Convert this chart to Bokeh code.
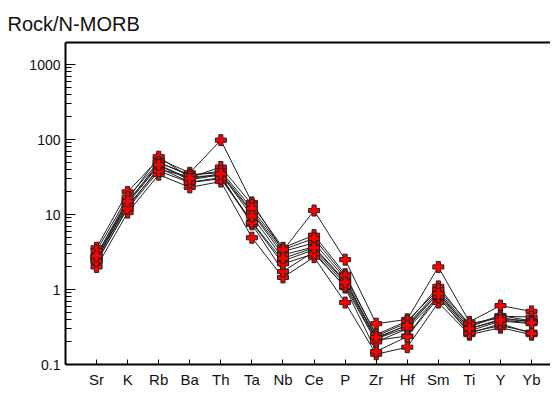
from bokeh.plotting import figure
from bokeh.models import Range1d, FixedTicker, LogAxis, LinearAxis, LogScale
from bokeh.embed import file_html
from bokeh.resources import INLINE

elements = ["Sr", "K", "Rb", "Ba", "Th", "Ta", "Nb", "Ce", "P", "Zr", "Hf", "Sm", "Ti", "Y", "Yb"]

s1 = [3.6, 20.0, 55, 36, 98, 14.5, 3.3, 11.3, 2.5, 0.35, 0.40, 2.0, 0.37, 0.61, 0.51]
s2 = [2.9, 15.8, 59, 31, 43, 13.6, 3.6, 5.3, 1.6, 0.24, 0.36, 1.10, 0.33, 0.45, 0.38]
s3 = [2.7, 14.5, 49, 34, 36, 11.0, 3.2, 4.2, 1.4, 0.22, 0.34, 0.95, 0.32, 0.44, 0.43]
s4 = [2.5, 14.0, 45, 29, 34, 10.6, 2.9, 3.7, 1.3, 0.22, 0.31, 0.90, 0.30, 0.40, 0.38]
s5 = [2.3, 12.4, 42, 27, 31, 8.0, 2.4, 3.4, 1.17, 0.21, 0.24, 0.85, 0.28, 0.38, 0.35]
s6 = [2.0, 10.6, 34, 23, 27.5, 4.9, 1.45, 2.7, 0.67, 0.137, 0.17, 0.67, 0.25, 0.31, 0.25]
s7 = [2.6, 13.0, 40, 32, 33, 7.4, 1.74, 3.2, 1.06, 0.149, 0.236, 0.78, 0.27, 0.33, 0.27]
s8 = [3.3, 17.0, 50, 33, 38, 12.0, 3.4, 4.8, 1.5, 0.25, 0.38, 1.0, 0.35, 0.42, 0.37]
s9 = [2.4, 12.0, 38, 26.7, 30, 7.8, 2.2, 3.0, 1.1, 0.20, 0.30, 0.80, 0.26, 0.35, 0.26]
s10 = [2.8, 15.0, 46, 30, 35, 9.5, 2.6, 3.6, 1.25, 0.23, 0.33, 0.88, 0.30, 0.39, 0.36]
samples = [s1, s2, s3, s4, s5, s6, s7, s8, s9, s10]

y_major = [0.1, 1, 10, 100, 1000]
y_labels = ["0.1", "1", "10", "100", "1000"]

FONT = "Liberation Sans"

p = figure(width=550, height=390, y_axis_type=None, x_axis_type=None,
           x_range=Range1d(0, 15.61), y_range=Range1d(0.1, 1966),
           output_backend="svg", toolbar_location=None,
           min_border_left=65, min_border_right=0, min_border_top=42, min_border_bottom=25,
           title="Rock/N-MORB")
p.y_scale = LogScale()

p.grid.visible = False
p.outline_line_color = None
p.background_fill_color = "white"

p.title.text_font = FONT
p.title.text_font_size = "20px"
p.title.text_font_style = "normal"
p.title.text_color = "#111111"
p.title.align = "left"
p.title.offset = -58
p.title.standoff = 15

xs = list(range(1, len(elements) + 1))
for s in samples:
    p.line(xs, s, line_color="#202020", line_width=1)
for s in samples:
    p.scatter(xs, s, marker="plus", size=11, fill_color="#ff0000", line_color="#222222", line_width=1)

minor = []
for d in [0.1, 1, 10, 100, 1000]:
    for m in range(2, 10):
        minor.append(d * m)

yax = LogAxis(ticker=FixedTicker(ticks=y_major, minor_ticks=minor))
yax.major_label_overrides = {v: l for v, l in zip(y_major, y_labels)}
yax.major_tick_in = 10
yax.major_tick_out = 0
yax.minor_tick_in = 6
yax.minor_tick_out = 0
yax.axis_line_width = 2
yax.major_tick_line_width = 1
yax.major_label_text_font = FONT
yax.major_label_text_font_size = "14px"
yax.major_label_text_color = "#111111"
yax.major_label_standoff = 5
p.add_layout(yax, "left")

xax = LinearAxis(ticker=FixedTicker(ticks=xs))
xax.major_label_overrides = {x: e for x, e in zip(xs, elements)}
xax.major_tick_in = 5
xax.major_tick_out = 0
xax.minor_tick_line_color = None
xax.axis_line_width = 2
xax.major_label_text_font = FONT
xax.major_label_text_font_size = "15px"
xax.major_label_text_color = "#111111"
xax.major_label_standoff = 6
p.add_layout(xax, "below")

top = LinearAxis(ticker=FixedTicker(ticks=[]))
top.axis_line_width = 2
top.major_tick_line_color = None
top.minor_tick_line_color = None
top.major_label_text_font_size = "0px"
top.major_label_standoff = 0
p.add_layout(top, "above")

open("out.html", "w").write(file_html(p, INLINE))
